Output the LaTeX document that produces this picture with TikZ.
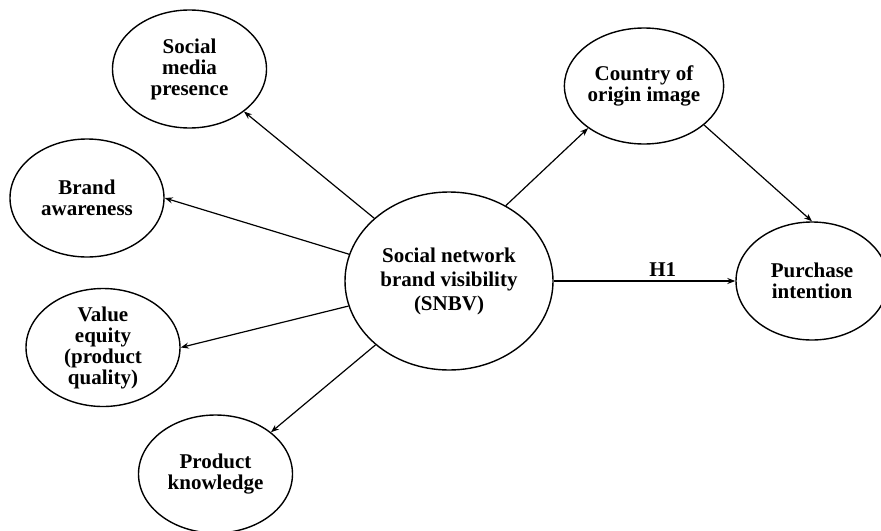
\documentclass[tikz,border=0pt]{standalone}
\usepackage{fontspec}
\setmainfont{Liberation Serif}
\usetikzlibrary{arrows.meta,shapes.geometric}

\begin{document}
\begin{tikzpicture}[
  x=0.5pt, y=-0.5pt,
  every node/.style={align=center, font=\bfseries\fontsize{10.5}{10.5}\selectfont},
  construct/.style={ellipse, draw=black, line width=0.7pt, minimum width=77pt, minimum height=59pt, inner sep=0pt},
  hub/.style={ellipse, draw=black, line width=0.7pt, minimum width=104pt, minimum height=89pt, inner sep=0pt,
    font=\bfseries\fontsize{10.5}{12}\selectfont},
  arrow/.style={-{Stealth[length=4pt, width=3pt]}, line width=0.6pt}
]
\useasboundingbox (0,0) rectangle (881,530);

% --- CENTRAL CONSTRUCT ---
\node[hub] (snbv) at (449,281) {Social network\\brand visibility\\(SNBV)};

% --- DIMENSIONS (left fan) ---
\node[construct] (presence) at (189.5,69) {Social\\media\\presence};
\node[construct] (awareness) at (87,198) {Brand\\awareness};
\node[construct] (equity) at (103,347.5) {Value\\equity\\(product\\quality)};
\node[construct] (knowledge) at (215.5,474) {Product\\knowledge};

% --- OUTCOMES (right side) ---
\node[construct, minimum width=79pt, minimum height=58pt] (origin) at (644,86) {Country of\\origin image};
\node[construct, minimum width=76pt] (intention) at (812,281) {Purchase\\intention};

% --- SNBV TO DIMENSIONS ---
\draw[arrow] (snbv.140) -- (presence.322);
\draw[arrow] (snbv.165) -- (awareness.east);
\draw[arrow] (snbv.194) -- (equity.east);
\draw[arrow] (snbv.221) -- (knowledge.37);

% --- MEDIATED AND DIRECT PATHS ---
\draw[arrow] (snbv.53) -- (origin.217);
\draw[arrow] (origin.327) -- (intention.north);
\draw[arrow] (snbv.east) -- node[pos=0.6, above, inner sep=2pt] {H1} (intention.west);

\end{tikzpicture}
\end{document}
